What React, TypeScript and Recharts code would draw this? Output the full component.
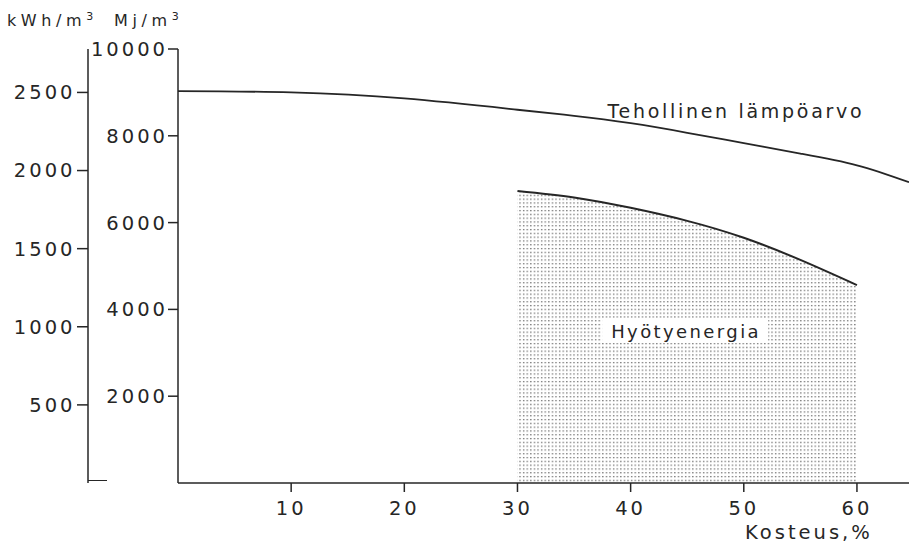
import React from "react";
import {
  Area,
  ComposedChart,
  Line,
  ReferenceDot,
  XAxis,
  YAxis,
} from "recharts";

// Kosteus, %
const moisture = [0, 10, 20, 30, 35, 40, 45, 50, 55, 60, 64.6];
// Tehollinen lämpöarvo, Mj/m3
const effectiveHeat = [9030, 9000, 8860, 8600, 8460, 8290, 8070, 7830, 7590, 7320, 6930];
// Hyötyenergia, Mj/m3 (vain 30...60 %)
const usefulEnergy = [null, null, null, 6730, 6580, 6340, 6040, 5650, 5140, 4560, null];

const xTicks = [10, 20, 30, 40, 50, 60];
const mjTicks = [2000, 4000, 6000, 8000, 10000];
const kwhTicks = [500, 1000, 1500, 2000, 2500];

const data = moisture.map((m, i) => ({
  m,
  teho: effectiveHeat[i],
  hyoty: usefulEnergy[i],
}));

const INK = "#262626";
const FONT = "'DejaVu Sans', Arial, sans-serif";

const tickStyle = { fontSize: 19.5, fill: INK, fontFamily: FONT, letterSpacing: 3 };

const UnitLabel = ({ viewBox, text, dx }: any) => {
  if (!viewBox) return null;
  return (
    <text
      x={viewBox.x + dx}
      y={viewBox.y - 23}
      fontSize={16}
      fill={INK}
      fontFamily={FONT}
      letterSpacing={4.6}
    >
      {text}
      <tspan dy={-6} fontSize={11} letterSpacing={0}>
        3
      </tspan>
    </text>
  );
};

const XLabel = ({ viewBox }: any) => {
  if (!viewBox) return null;
  return (
    <text
      x={viewBox.x + viewBox.width - 164}
      y={viewBox.y + 56}
      fontSize={19.5}
      fill={INK}
      fontFamily={FONT}
      letterSpacing={3}
    >
      Kosteus,%
    </text>
  );
};

const TehoLabel = (props: any) => (
  <text
    x={props.cx}
    y={props.cy}
    textAnchor="middle"
    fontSize={19}
    fill={INK}
    fontFamily={FONT}
    letterSpacing={2.7}
  >
    Tehollinen lämpöarvo
  </text>
);

const HyotyLabel = (props: any) => (
  <g>
    <rect x={props.cx - 84} y={props.cy - 20} width={166} height={25} fill="#fff" />
    <text
      x={props.cx}
      y={props.cy}
      textAnchor="middle"
      fontSize={18}
      fill={INK}
      fontFamily={FONT}
      letterSpacing={2.4}
    >
      Hyötyenergia
    </text>
  </g>
);

export default function App() {
  return (
    <div style={{ position: "absolute", left: 0, top: 0, width: 909, height: 545, background: "#fff" }}>
      <ComposedChart
        width={909}
        height={545}
        data={data}
        margin={{ top: 49, right: 0, bottom: 0, left: 0 }}
      >
        <defs>
          <pattern id="dots" width={3.6} height={3.8} patternUnits="userSpaceOnUse">
            <rect x={1} y={1} width={1.3} height={1.2} fill="#5e5e5e" />
          </pattern>
        </defs>
        <XAxis
          dataKey="m"
          type="number"
          domain={[0, 64.6]}
          allowDataOverflow
          ticks={xTicks}
          height={62}
          tickSize={9}
          tickMargin={9}
          stroke={INK}
          strokeWidth={1.5}
          tick={tickStyle}
          label={<XLabel />}
        />
        <YAxis
          yAxisId="y1"
          type="number"
          domain={[0, 10000]}
          ticks={mjTicks}
          interval={0}
          width={90}
          tickSize={10}
          tickMargin={0}
          stroke={INK}
          strokeWidth={1.5}
          tick={tickStyle}
          label={<UnitLabel text="Mj/m" dx={26} />}
        />
        <YAxis
          yAxisId="y2"
          type="number"
          domain={[0, 2778]}
          allowDataOverflow
          ticks={kwhTicks}
          interval={0}
          width={88}
          tickSize={11}
          tickMargin={1.5}
          stroke={INK}
          strokeWidth={1.5}
          tick={tickStyle}
          label={<UnitLabel text="kWh/m" dx={7} />}
        />
        <Area
          yAxisId="y1"
          dataKey="hyoty"
          type="natural"
          stroke={INK}
          strokeWidth={2}
          fill="url(#dots)"
          fillOpacity={1}
          dot={false}
          activeDot={false}
          isAnimationActive={false}
        />
        <Line
          yAxisId="y1"
          dataKey="teho"
          type="natural"
          stroke={INK}
          strokeWidth={1.8}
          dot={false}
          activeDot={false}
          isAnimationActive={false}
        />
        <ReferenceDot yAxisId="y1" x={49.3} y={8400} r={0} shape={TehoLabel} />
        <ReferenceDot yAxisId="y1" x={44.9} y={3340} r={0} shape={HyotyLabel} />
      </ComposedChart>
      <div
        style={{
          position: "absolute",
          left: 88,
          top: 480,
          width: 19,
          borderTop: `1.5px solid ${INK}`,
        }}
      />
    </div>
  );
}
